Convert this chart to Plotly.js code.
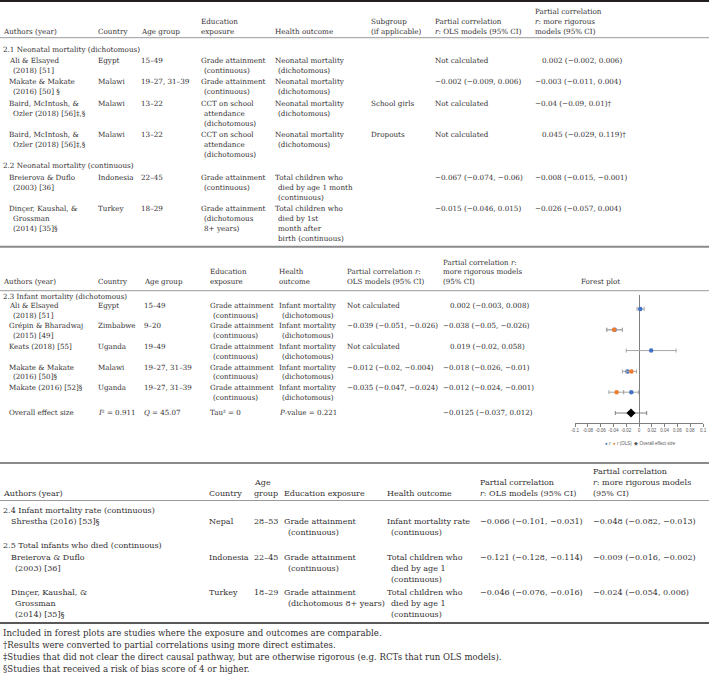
<!DOCTYPE html>
<html><head><meta charset="utf-8">
<script src="https://cdn.plot.ly/plotly-3.0.1.min.js"></script>
<style>html,body{margin:0;padding:0;background:#fff}</style>
</head><body><div id="chart" style="width:709px;height:683px"></div>
<script>
// ================= DATA =================
// Forest plot (section 2.3)
const forestStudies = ["Ali & Elsayed (2018) [51]", "Grépin & Bharadwaj (2015) [49]", "Keats (2018) [55]",
  "Makate & Makate (2016) [50]§", "Makate (2016) [52]§", "Overall effect size"];
const rRigorous     = [0.002, -0.038, 0.019, -0.018, -0.012];
const rRigorousLow  = [-0.003, -0.05, -0.02, -0.026, -0.024];
const rRigorousHigh = [0.008, -0.026, 0.058, -0.01, -0.001];
const rOLS     = [null, -0.039, null, -0.012, -0.035];
const rOLSLow  = [null, -0.051, null, -0.02, -0.047];
const rOLSHigh = [null, -0.026, null, -0.004, -0.024];
const overallR = [-0.0125];
const overallLow = [-0.037];
const overallHigh = [0.012];
const forestTickVals = [-0.1, -0.08, -0.06, -0.04, -0.02, 0, 0.02, 0.04, 0.06, 0.08, 0.1];
const forestTickText = ["-0.1", "-0.08", "-0.06", "-0.04", "-0.02", "0", "0.02", "0.04", "0.06", "0.08", "0.1"];

// Section 1 table
const s1Head = ["Authors (year)", "Country", "Age group", "Education|exposure", "Health outcome",
  "Subgroup|(if applicable)", "Partial correlation|<i>r</i>: OLS models (95% CI)", "Partial correlation|<i>r</i>: more rigorous|models (95% CI)"];
const s1Groups = ["2.1 Neonatal mortality (dichotomous)", "2.2 Neonatal mortality (continuous)"];
const s1Authors = ["Ali & Elsayed|(2018) [51]", "Makate & Makate|(2016) [50] §", "Baird, McIntosh, &|Ozler (2018) [56]‡,§",
  "Baird, McIntosh, &|Ozler (2018) [56]‡,§", "Breierova & Duflo|(2003) [36]", "Dinçer, Kaushal, &|Grossman|(2014) [35]§"];
const s1Country = ["Egypt", "Malawi", "Malawi", "Malawi", "Indonesia", "Turkey"];
const s1Age = ["15–49", "19–27, 31–39", "13–22", "13–22", "22–45", "18–29"];
const s1Exposure = ["Grade attainment|(continuous)", "Grade attainment|(continuous)", "CCT on school|attendance|(dichotomous)",
  "CCT on school|attendance|(dichotomous)", "Grade attainment|(continuous)", "Grade attainment|(dichotomous|8+ years)"];
const s1Outcome = ["Neonatal mortality|(dichotomous)", "Neonatal mortality|(dichotomous)", "Neonatal mortality|(dichotomous)",
  "Neonatal mortality|(dichotomous)", "Total children who|died by age 1 month|(continuous)", "Total children who|died by 1st|month after|birth (continuous)"];
const s1Subgroup = ["", "", "School girls", "Dropouts", "", ""];
const s1OLS = ["Not calculated", "−0.002 (−0.009, 0.006)", "Not calculated", "Not calculated", "−0.067 (−0.074, −0.06)", "−0.015 (−0.046, 0.015)"];
const s1Rig = ["0.002 (−0.002, 0.006)", "−0.003 (−0.011, 0.004)", "−0.04 (−0.09, 0.01)†", "0.045 (−0.029, 0.119)†", "−0.008 (−0.015, −0.001)", "−0.026 (−0.057, 0.004)"];

// Section 2 table
const s2Head = ["Authors (year)", "Country", "Age group", "Education|exposure", "Health|outcome",
  "Partial correlation <i>r</i>:|OLS models (95% CI)", "Partial correlation <i>r</i>:|more rigorous models|(95% CI)", "Forest plot"];
const s2Group = "2.3 Infant mortality (dichotomous)";
const s2Authors = ["Ali & Elsayed|(2018) [51]", "Grépin & Bharadwaj|(2015) [49]", "Keats (2018) [55]", "Makate & Makate|(2016) [50]§", "Makate (2016) [52]§"];
const s2Country = ["Egypt", "Zimbabwe", "Uganda", "Malawi", "Uganda"];
const s2Age = ["15–49", "9–20", "19–49", "19–27, 31–39", "19–27, 31–39"];
const s2Exposure = ["Grade attainment|(continuous)", "Grade attainment|(continuous)", "Grade attainment|(continuous)", "Grade attainment|(continuous)", "Grade attainment|(continuous)"];
const s2Outcome = ["Infant mortality|(dichotomous)", "Infant mortality|(dichotomous)", "Infant mortality|(dichotomous)", "Infant mortality|(dichotomous)", "Infant mortality|(dichotomous)"];
const s2OLS = ["Not calculated", "−0.039 (−0.051, −0.026)", "Not calculated", "−0.012 (−0.02, −0.004)", "−0.035 (−0.047, −0.024)"];
const s2Rig = ["0.002 (−0.003, 0.008)", "−0.038 (−0.05, −0.026)", "0.019 (−0.02, 0.058)", "−0.018 (−0.026, −0.01)", "−0.012 (−0.024, −0.001)"];
const s2Overall = ["Overall effect size", "<i>I</i>² = 0.911", "<i>Q</i> = 45.07", "Tau² = 0", "<i>P</i>-value = 0.221", "", "−0.0125 (−0.037, 0.012)"];

// Section 3 table
const s3Head = ["Authors (year)", "Country", "Age|group", "Education exposure", "Health outcome",
  "Partial correlation|<i>r</i>: OLS models (95% CI)", "Partial correlation|<i>r</i>: more rigorous models|(95% CI)"];
const s3Groups = ["2.4 Infant mortality rate (continuous)", "2.5 Total infants who died (continuous)"];
const s3Authors = ["Shrestha (2016) [53]§", "Breierova & Duflo|(2003) [36]", "Dinçer, Kaushal, &|Grossman|(2014) [35]§"];
const s3Country = ["Nepal", "Indonesia", "Turkey"];
const s3Age = ["28–53", "22–45", "18–29"];
const s3Exposure = ["Grade attainment|(continuous)", "Grade attainment|(continuous)", "Grade attainment|(dichotomous 8+ years)"];
const s3Outcome = ["Infant mortality rate|(continuous)", "Total children who|died by age 1|(continuous)", "Total children who|died by age 1|(continuous)"];
const s3OLS = ["−0.066 (−0.101, −0.031)", "−0.121 (−0.128, −0.114)", "−0.046 (−0.076, −0.016)"];
const s3Rig = ["−0.048 (−0.082, −0.013)", "−0.009 (−0.016, −0.002)", "−0.024 (−0.054, 0.006)"];

const footnotes = [
  "Included in forest plots are studies where the exposure and outcomes are comparable.",
  "†Results were converted to partial correlations using more direct estimates.",
  "‡Studies that did not clear the direct causal pathway, but are otherwise rigorous (e.g. RCTs that run OLS models).",
  "§Studies that received a risk of bias score of 4 or higher."
];

// ================= LAYOUT HELPERS =================
const W = 709, H = 683;
const INK = '#333031';
const SERIF = '"DejaVu Serif", "Liberation Serif", serif';
const SANS = '"Liberation Sans", Arial, sans-serif';
const ann = [];
const shapes = [];
function esc(s) { return s.replace(/&(?![a-zA-Z#0-9]+;)/g, '&amp;'); }
function T(x, y, s, size, extra) {
  ann.push(Object.assign({
    xref: 'paper', yref: 'paper', x: x / W, y: 1 - y / H, xanchor: 'left', yanchor: 'middle',
    showarrow: false, text: esc(s), borderpad: 0,
    font: { family: SERIF, size: size, color: INK }
  }, extra || {}));
}
function cell(x, y, s, size, lh, indent) {
  s.split('|').forEach((line, i) => { if (line) T(x + (i ? indent : 0), y + i * lh, line, size); });
}
function header(x, yBottom, s, size, lh) {
  const L = s.split('|');
  L.forEach((line, i) => T(x, yBottom - (L.length - 1 - i) * lh, line, size));
}
function hline(y, w, color) {
  shapes.push({ type: 'line', xref: 'paper', yref: 'paper', x0: 0, x1: 1, y0: 1 - y / H, y1: 1 - y / H,
    line: { color: color, width: w } });
}
function numX(x, s, off) { return /^[0-9]/.test(s) ? x + off : x; }

// ---- Section 1 ----
const F1 = 7.2, LH1 = 10;
const s1X = [2, 97, 140, 200, 274, 370, 434, 534];
s1Head.forEach((h, i) => header(s1X[i], 31.7, h, F1, LH1));
T(2, 49, s1Groups[0], F1);
T(2, 166, s1Groups[1], F1);
const s1RowY = [60.4, 81.8, 103.2, 134.6, 177.4, 208.8];
s1RowY.forEach((y, i) => {
  cell(8, y, s1Authors[i], F1, LH1, 4);
  cell(s1X[1], y, s1Country[i], F1, LH1, 0);
  cell(s1X[2], y, s1Age[i], F1, LH1, 0);
  cell(s1X[3], y, s1Exposure[i], F1, LH1, 3);
  cell(s1X[4], y, s1Outcome[i], F1, LH1, 3);
  if (s1Subgroup[i]) cell(s1X[5], y, s1Subgroup[i], F1, LH1, 0);
  cell(s1X[6], y, s1OLS[i], F1, LH1, 0);
  cell(numX(s1X[7], s1Rig[i], 7), y, s1Rig[i], F1, LH1, 0);
});

// ---- Section 2 ----
const F2 = 7.1, LH2 = 9.5;
const s2X = [2, 97, 143, 209, 278, 346, 442, 580];
s2Head.forEach((h, i) => header(s2X[i], 281.2, h, F2, LH2));
T(2, 296.5, s2Group, F2);
const s2RowY = [305.5, 326, 346.5, 367, 387.5];
s2RowY.forEach((y, i) => {
  cell(8, y, s2Authors[i], F2, LH2, 4);
  cell(s2X[1], y, s2Country[i], F2, LH2, 0);
  cell(s2X[2], y, s2Age[i], F2, LH2, 0);
  cell(s2X[3], y, s2Exposure[i], F2, LH2, 3);
  cell(s2X[4], y, s2Outcome[i], F2, LH2, 3);
  cell(s2X[5], y, s2OLS[i], F2, LH2, 0);
  cell(numX(s2X[6], s2Rig[i], 7), y, s2Rig[i], F2, LH2, 0);
});
const ovX = [8, 97, 143, 209, 278, 346, 442];
s2Overall.forEach((s, i) => { if (s) T(ovX[i], 412, s, F2); });

// ---- Section 3 ----
const F3 = 8, LH3 = 11;
const s3X = [2, 208, 253, 283, 386, 479, 592];
s3Head.forEach((h, i) => header(s3X[i], 493, h, F3, LH3));
T(2, 510, s3Groups[0], F3);
T(2, 545, s3Groups[1], F3);
const s3RowY = [521.5, 557, 592];
s3RowY.forEach((y, i) => {
  cell(10, y, s3Authors[i], F3, LH3, 4);
  cell(s3X[1], y, s3Country[i], F3, LH3, 0);
  cell(s3X[2], y, s3Age[i], F3, LH3, 0);
  cell(s3X[3], y, s3Exposure[i], F3, LH3, 4);
  cell(s3X[4], y, s3Outcome[i], F3, LH3, 4);
  cell(s3X[5], y, s3OLS[i], F3, LH3, 0);
  cell(s3X[6], y, s3Rig[i], F3, LH3, 0);
});

// ---- Footnotes ----
const footY = [633, 645, 657, 669];
footnotes.forEach((s, i) => T(2, footY[i], s, 8.6));

// ---- Rules ----
hline(1, 2, '#231f20');
hline(37.7, 1, '#9a9a9a');
hline(246.7, 2, '#8a8a8a');
hline(290.7, 1, '#9a9a9a');
hline(463, 2, '#8a8a8a');
hline(500.5, 1, '#9a9a9a');
hline(623, 1.5, '#231f20');

// ---- Forest legend (text) ----
ann.push({
  xref: 'paper', yref: 'paper', x: 640 / W, y: 1 - 443 / H, xanchor: 'center', yanchor: 'middle', showarrow: false,
  text: "<span style='color:#4472c4'>●</span> <i>r</i>  <span style='color:#ed7d31'>●</span> <i>r</i> (OLS)  ◆ Overall effect size",
  font: { family: SANS, size: 4.5, color: '#595959' }
});

// ================= TRACES =================
function diff(a, b) { return a.map((v, i) => (v === null || b[i] === null) ? null : +(v - b[i]).toFixed(4)); }
const studyCats = forestStudies.slice(0, 5);
const errColor = '#a6a6a6';
const traces = [
  {
    type: 'scatter', mode: 'markers', name: 'r', x: rRigorous, y: studyCats,
    marker: { color: '#4472c4', size: 4.5 },
    error_x: { type: 'data', symmetric: false, array: diff(rRigorousHigh, rRigorous), arrayminus: diff(rRigorous, rRigorousLow),
      color: errColor, thickness: 1, width: 2 }
  },
  {
    type: 'scatter', mode: 'markers', name: 'r (OLS)', x: rOLS, y: studyCats,
    marker: { color: '#ed7d31', size: 4.5 },
    error_x: { type: 'data', symmetric: false, array: diff(rOLSHigh, rOLS), arrayminus: diff(rOLS, rOLSLow),
      color: errColor, thickness: 1, width: 2 }
  },
  {
    type: 'scatter', mode: 'markers', name: 'Overall effect size', x: overallR, y: [forestStudies[5]],
    marker: { color: '#000000', size: 7, symbol: 'diamond' },
    error_x: { type: 'data', symmetric: false, array: diff(overallHigh, overallR), arrayminus: diff(overallR, overallLow),
      color: '#7f7f7f', thickness: 1, width: 2 }
  }
];

const layout = {
  width: W, height: H,
  margin: { l: 0, r: 0, t: 0, b: 0 },
  paper_bgcolor: '#ffffff', plot_bgcolor: 'rgba(0,0,0,0)',
  showlegend: false,
  xaxis: {
    domain: [575 / W, 703 / W], range: [-0.1, 0.1], anchor: 'y',
    showgrid: false, zeroline: true, zerolinecolor: '#7f7f7f', zerolinewidth: 1,
    showline: true, linecolor: '#7f7f7f', linewidth: 1,
    ticks: 'outside', ticklen: 2.5, tickwidth: 1, tickcolor: '#7f7f7f',
    tickvals: forestTickVals, ticktext: forestTickText,
    tickfont: { family: SANS, size: 4.5, color: '#595959' }, fixedrange: true
  },
  yaxis: {
    domain: [1 - 423 / H, 1 - 295 / H], type: 'category', categoryorder: 'array', categoryarray: forestStudies,
    range: [5.48, -0.67], showticklabels: false, showgrid: false, zeroline: false, showline: false, ticks: '',
    fixedrange: true
  },
  annotations: ann,
  shapes: shapes
};

Plotly.newPlot('chart', traces, layout, { displayModeBar: false, staticPlot: true });
</script>
</body></html>
